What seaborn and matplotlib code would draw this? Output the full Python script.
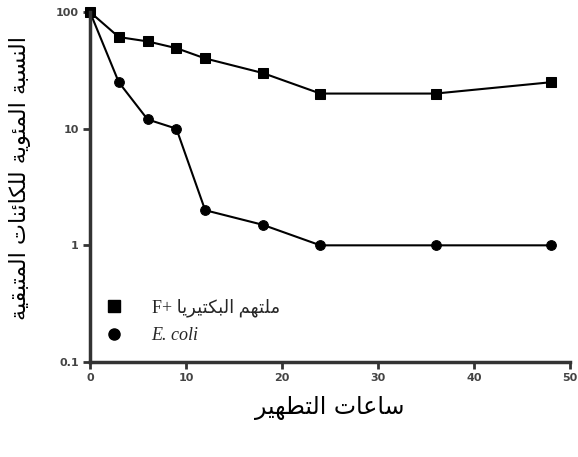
import numpy as np
import pandas as pd
import matplotlib
matplotlib.use("Agg")
import matplotlib.pyplot as plt
import seaborn as sns

# ---------------- data ----------------
hours = [0, 3, 6, 9, 12, 18, 24, 36, 48]
phage_pct = [100, 61, 56, 49, 40, 30, 20, 20, 25]
ecoli_pct = [100, 25, 12, 10, 2.0, 1.5, 1.0, 1.0, 1.0]
series_names = ["phage", "ecoli"]
x_ticks = [0, 10, 20, 30, 40, 50]
y_ticks = [0.1, 1, 10, 100]
y_tick_labels = ["0.1", "1", "10", "100"]
xlabel_ar = "ساعات التطهير"
ylabel_ar = "النسبة المئوية للكائنات المتبقية"
phage_ar = "ملتهم البكتيريا"
ecoli_label = "E. coli"

# ---------- minimal Arabic shaping (presentation forms, visual order) ----------
FORMS = {
    '\u0627': ('\uFE8D', '\uFE8E', None, None),
    '\u0628': ('\uFE8F', '\uFE90', '\uFE91', '\uFE92'),
    '\u0629': ('\uFE93', '\uFE94', None, None),
    '\u062A': ('\uFE95', '\uFE96', '\uFE97', '\uFE98'),
    '\u0631': ('\uFEAD', '\uFEAE', None, None),
    '\u0633': ('\uFEB1', '\uFEB2', '\uFEB3', '\uFEB4'),
    '\u0637': ('\uFEC1', '\uFEC2', '\uFEC3', '\uFEC4'),
    '\u0639': ('\uFEC9', '\uFECA', '\uFECB', '\uFECC'),
    '\u0642': ('\uFED5', '\uFED6', '\uFED7', '\uFED8'),
    '\u0643': ('\uFED9', '\uFEDA', '\uFEDB', '\uFEDC'),
    '\u0644': ('\uFEDD', '\uFEDE', '\uFEDF', '\uFEE0'),
    '\u0645': ('\uFEE1', '\uFEE2', '\uFEE3', '\uFEE4'),
    '\u0646': ('\uFEE5', '\uFEE6', '\uFEE7', '\uFEE8'),
    '\u0647': ('\uFEE9', '\uFEEA', '\uFEEB', '\uFEEC'),
    '\u0648': ('\uFEED', '\uFEEE', None, None),
    '\u064A': ('\uFEF1', '\uFEF2', '\uFEF3', '\uFEF4'),
    '\u0626': ('\uFE89', '\uFE8A', '\uFE8B', '\uFE8C'),
}


def shape_ar(text):
    out = []
    n = len(text)
    for i, ch in enumerate(text):
        if ch not in FORMS:
            out.append(ch)
            continue
        iso, fin, ini, med = FORMS[ch]
        prev = text[i - 1] if i > 0 else None
        nxt = text[i + 1] if i < n - 1 else None
        jp = prev in FORMS and FORMS[prev][2] is not None
        jn = nxt in FORMS and ini is not None
        if jp and jn:
            out.append(med)
        elif jp:
            out.append(fin)
        elif jn:
            out.append(ini)
        else:
            out.append(iso)
    return "".join(out)[::-1]


# ---------------- plotting ----------------
sns.set_theme(style="ticks")
plt.rcParams['font.family'] = ['DejaVu Sans']

df = pd.DataFrame({
    "hours": hours * 2,
    "pct": phage_pct + ecoli_pct,
    "series": [series_names[0]] * len(hours) + [series_names[1]] * len(hours),
})

fig = plt.figure(figsize=(5.78, 4.57), dpi=100)
ax = fig.add_axes([0.1557, 0.2079, 0.8303, 0.7658])

sns.lineplot(data=df, x="hours", y="pct", hue="series", style="series",
             palette={"phage": "black", "ecoli": "black"},
             markers={"phage": "s", "ecoli": "o"}, dashes=False,
             markersize=7, linewidth=1.5, markeredgecolor="black",
             legend=False, ax=ax, clip_on=False)

ax.set_yscale("log")
ax.set_xlim(0, 50)
ax.set_ylim(0.1, 100)
ax.set_xticks(x_ticks)
ax.set_xticklabels([str(t) for t in x_ticks])
ax.set_yticks(y_ticks)
ax.set_yticklabels(y_tick_labels)
ax.yaxis.set_minor_locator(matplotlib.ticker.NullLocator())

for s in ["top", "right"]:
    ax.spines[s].set_visible(False)
for s in ["left", "bottom"]:
    ax.spines[s].set_linewidth(2.5)
    ax.spines[s].set_color("#333333")
ax.tick_params(axis="both", which="major", length=5, width=2, color="#333333",
               labelsize=8, labelcolor="#444444", pad=3)
for lab in ax.get_xticklabels() + ax.get_yticklabels():
    lab.set_fontweight("bold")

ax.set_xlabel(shape_ar(xlabel_ar), fontsize=17, labelpad=9, color="black")
ax.set_ylabel(shape_ar(ylabel_ar), fontsize=16, color="black")
ax.yaxis.set_label_coords(-0.122, 0.526)

# legend
from matplotlib.lines import Line2D
handles = [Line2D([], [], marker="s", color="black", linestyle="none", markersize=8),
           Line2D([], [], marker="o", color="black", linestyle="none", markersize=8)]
labels = ["F+ " + shape_ar(phage_ar), ecoli_label]
leg = ax.legend(handles, labels, loc="lower left", bbox_to_anchor=(-0.022, 0.005),
                frameon=False, handletextpad=1.1, labelspacing=0.55,
                prop={"family": ["Liberation Serif", "DejaVu Sans"], "size": 13})
leg.get_texts()[1].set_style("italic")

fig.savefig("out.png", dpi=100)
